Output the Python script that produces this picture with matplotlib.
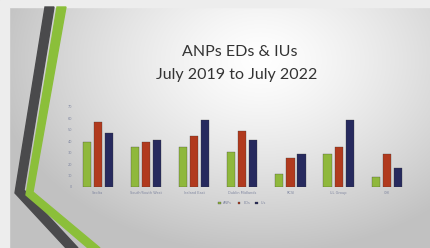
import numpy as np
import matplotlib.pyplot as plt
from matplotlib.patches import Polygon

# data (values approximate)
categories = ["Saolta", "South/South West", "Ireland East", "Dublin Midlands",
              "RCSI", "UL Group", "CHI"]
series_names = ["ANPs", "EDs", "IUs"]
anps = [39, 35, 35, 31, 11, 29, 9]
eds = [57, 39, 45, 49, 25, 35, 29]
ius = [47, 41, 59, 41, 29, 59, 17]
y_ticks = [0, 10, 20, 30, 40, 50, 60, 70]

colors = ["#8fb83c", "#b13a1e", "#272a5e"]

W, H = 430, 248
fig = plt.figure(figsize=(W / 100, H / 100), dpi=100)

# background slide, pixel coordinates
bg = fig.add_axes([0, 0, 1, 1])
bg.set_xlim(0, W)
bg.set_ylim(H, 0)
bg.axis("off")

yy, xx = np.mgrid[0:H, 0:W]
d = np.sqrt(((xx - 260) / 250.0) ** 2 + ((yy - 60) / 180.0) ** 2)
shade = np.clip(1.0 - 0.22 * d ** 1.3, 0.76, 1.0)
img = np.dstack([shade, shade, shade])
bg.imshow(img, extent=[0, W, H, 0], aspect="auto", zorder=0)

# outer frame
bg.add_patch(Polygon([[0, 0], [W, 0], [W, 7], [9, 7], [9, H], [0, H]],
                     closed=True, color="#ededed", zorder=1))

# chevron stripes on the left
dark = [[45, 7], [54, 7], [24, 190], [78, 248], [66, 248], [15, 193]]
green = [[57, 7], [66, 7], [33, 192], [100, 248], [88, 248], [26, 195]]
bg.add_patch(Polygon(dark, closed=True, color="#4a4a4c", zorder=2))
bg.add_patch(Polygon(green, closed=True, color="#8bbf3a", zorder=3))

bg.text(240, 52, "ANPs EDs & IUs", ha="center", va="center",
        fontsize=11.5, color="#333333", family="Lato")
bg.text(237, 75, "July 2019 to July 2022", ha="center", va="center",
        fontsize=11.5, color="#333333", family="Lato")

# chart
left, right, top, bottom = 76, 408, 107, 187
ax = fig.add_axes([left / W, 1 - bottom / H, (right - left) / W, (bottom - top) / H])
ax.patch.set_alpha(0)

x = np.arange(len(categories))
width = 0.17
step = 0.23
for i, (vals, c) in enumerate(zip([anps, eds, ius], colors)):
    ax.bar(x + (i - 1) * step, vals, width, color=c, label=series_names[i],
           edgecolor="#333333", linewidth=0.2)

ax.set_xlim(-0.45, 6.44)
ax.set_ylim(0, 70)
ax.set_yticks(y_ticks)
ax.set_xticks(x)
ax.set_xticklabels(categories)
ax.tick_params(axis="both", length=0, labelsize=2.5, colors="#7f86a0", pad=3)
for s in ax.spines.values():
    s.set_visible(False)
ax.axhline(0, color="#bbbbbb", linewidth=0.4)

ax.legend(loc="upper center", bbox_to_anchor=(0.5, -0.14), ncol=3,
          frameon=False, fontsize=2.5, handlelength=0.8, handleheight=0.8,
          columnspacing=1.5, labelcolor="#7f86a0")

fig.savefig("out.png", dpi=100)
